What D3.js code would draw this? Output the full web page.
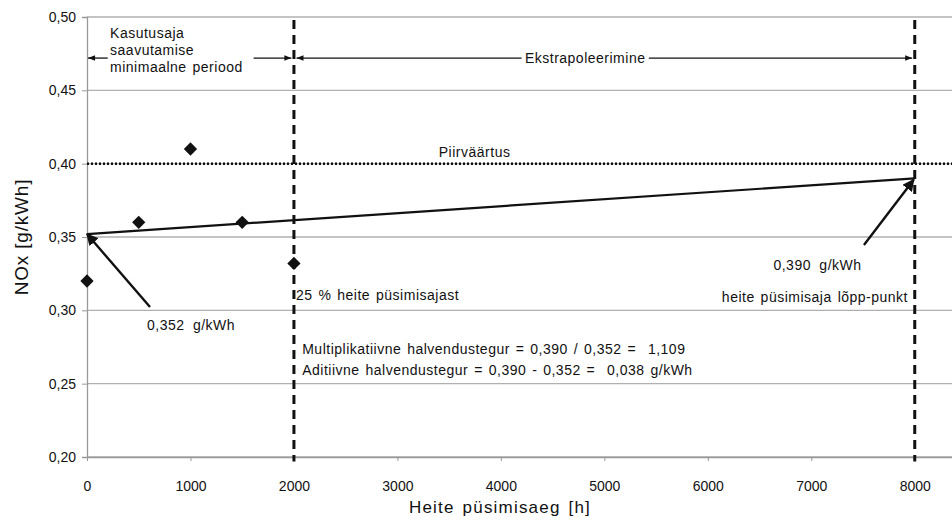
<!DOCTYPE html>
<html><head><meta charset="utf-8">
<script src="https://cdn.jsdelivr.net/npm/d3@7/dist/d3.min.js"></script>
<style>
body{margin:0;background:#fff;}
svg{display:block;font-family:"Liberation Sans",Arial,sans-serif;}
</style></head><body>
<svg id="c" width="952" height="529"></svg>
<script>
// Data
const hours = [0, 500, 1000, 1500, 2000];
const noxValues = [0.320, 0.360, 0.410, 0.360, 0.332];
const trendHours = [0, 8000];
const trendValues = [0.352, 0.390];
const limitValue = 0.40;
const verticalMarkers = [2000, 8000];
const xTicks = [0, 1000, 2000, 3000, 4000, 5000, 6000, 7000, 8000];
const yTicks = [0.20, 0.25, 0.30, 0.35, 0.40, 0.45, 0.50];

const svg = d3.select("#c");
const W = 952;
const x = d3.scaleLinear().domain([0, 8360]).range([87, 952]);
const y = d3.scaleLinear().domain([0.2, 0.5]).range([457, 17]);
const fmtY = v => d3.format(".2f")(v).replace(".", ",");

// defs arrowheads
const defs = svg.append("defs");
defs.append("marker").attr("id","ahs").attr("viewBox","0 0 10 10").attr("refX",10).attr("refY",5)
  .attr("markerWidth",8).attr("markerHeight",7).attr("markerUnits","userSpaceOnUse").attr("orient","auto")
  .append("path").attr("d","M0,1 L10,5 L0,9 Z").attr("fill","#111");
defs.append("marker").attr("id","ahb").attr("viewBox","0 0 10 10").attr("refX",9).attr("refY",5)
  .attr("markerWidth",12).attr("markerHeight",12).attr("markerUnits","userSpaceOnUse").attr("orient","auto")
  .append("path").attr("d","M0,0 L10,5 L0,10 Z").attr("fill","#111");

// gridlines
svg.append("g").selectAll("line").data(yTicks).join("line")
  .attr("x1", x(0)).attr("x2", W).attr("y1", d=>y(d)).attr("y2", d=>y(d))
  .attr("stroke", "#b0b0b0").attr("stroke-width", 1.3);

// y axis
const yAxis = svg.append("g").attr("transform", `translate(${x(0)},0)`)
  .call(d3.axisLeft(y).tickValues(yTicks).tickFormat(fmtY).tickSize(5).tickPadding(6));
yAxis.select(".domain").attr("stroke","#999").attr("stroke-width",1.3);
yAxis.selectAll(".tick line").attr("stroke","#999");
yAxis.selectAll("text").attr("font-size",14).attr("fill","#111").attr("font-family","Liberation Sans, Arial, sans-serif");

// x axis
const xAxis = svg.append("g").attr("transform", `translate(0,${y(0.2)})`)
  .call(d3.axisBottom(x).tickValues(xTicks).tickFormat(d3.format("d")).tickSize(4).tickPadding(20).tickSizeOuter(0));
xAxis.select(".domain").attr("stroke","#999").attr("stroke-width",1.3);
xAxis.selectAll(".tick line").attr("stroke","#999");
xAxis.selectAll("text").attr("font-size",14).attr("fill","#111").attr("font-family","Liberation Sans, Arial, sans-serif");

// limit dotted line
svg.append("line").attr("x1", x(0)).attr("x2", W).attr("y1", y(limitValue)).attr("y2", y(limitValue))
  .attr("stroke","#111").attr("stroke-width",2.5).attr("stroke-dasharray","2,2");

// vertical dashed markers
svg.append("g").selectAll("line").data(verticalMarkers).join("line")
  .attr("x1", d=>x(d)).attr("x2", d=>x(d)).attr("y1", y(0.498)).attr("y2", y(0.197))
  .attr("stroke","#111").attr("stroke-width",3).attr("stroke-dasharray","9,6");

// trend line
svg.append("path").datum(trendHours.map((h,i)=>[h, trendValues[i]]))
  .attr("d", d3.line().x(d=>x(d[0])).y(d=>y(d[1])))
  .attr("stroke","#111").attr("stroke-width",2.2).attr("fill","none");

// points
svg.append("g").selectAll("path").data(hours.map((h,i)=>[h, noxValues[i]])).join("path")
  .attr("d", d3.symbol().type(d3.symbolSquare).size(88))
  .attr("transform", d=>`translate(${x(d[0])},${y(d[1])}) rotate(45)`)
  .attr("fill","#111");

// arrows
const ya = 0.472;
function arrow(x1,y1,x2,y2,mk,w){
  svg.append("line").attr("x1",x(x1)).attr("y1",y(y1)).attr("x2",x(x2)).attr("y2",y(y2))
    .attr("stroke","#111").attr("stroke-width",w).attr("marker-end",`url(#${mk})`);
}
arrow(200, ya, 10, ya, "ahs", 1.3);
arrow(1610, ya, 1975, ya, "ahs", 1.3);
arrow(4200, ya, 2025, ya, "ahs", 1.3);
arrow(5430, ya, 7975, ya, "ahs", 1.3);
arrow(609, 0.3023, 0, 0.352, "ahb", 2.4);
arrow(7509, 0.3445, 7990, 0.389, "ahb", 2.4);

function txt(t, px, py, opts={}){
  const e = svg.append("text").attr("x", px).attr("y", py).text(t)
    .attr("font-size", opts.size || 14).attr("fill","#111")
    .attr("letter-spacing", opts.ls != null ? opts.ls : 0.5)
    .attr("word-spacing", opts.ws != null ? opts.ws : 1.5)
    .style("white-space","pre");
  if (opts.anchor) e.attr("text-anchor", opts.anchor);
  return e;
}
txt("Kasutusaja", x(223), 38);
txt("saavutamise", x(223), 55);
txt("minimaalne periood", x(223), 72);
txt("Ekstrapoleerimine", x(4815), 63, {anchor:"middle"});
txt("Piirväärtus", x(3400), 157);
txt("0,352 g/kWh", x(580), 330, {ws:4});
txt("25 % heite püsimisajast", x(2020), 300);
txt("0,390 g/kWh", x(7060), 270, {anchor:"middle", ws:4});
txt("heite püsimisaja lõpp-punkt", x(7935), 302, {anchor:"end"});
txt("Multiplikatiivne halvendustegur = 0,390 / 0,352 =  1,109", x(2080), 354);
txt("Aditiivne halvendustegur = 0,390 - 0,352 =  0,038 g/kWh", x(2080), 375);

// axis titles
txt("Heite püsimisaeg [h]", 500, 513, {anchor:"middle", size:17, ls:1.2, ws:2});
svg.append("text").attr("transform","translate(28,237) rotate(-90)").attr("text-anchor","middle")
  .attr("font-size",19).attr("letter-spacing",0.8).attr("fill","#111").text("NOx [g/kWh]");
</script></body></html>
